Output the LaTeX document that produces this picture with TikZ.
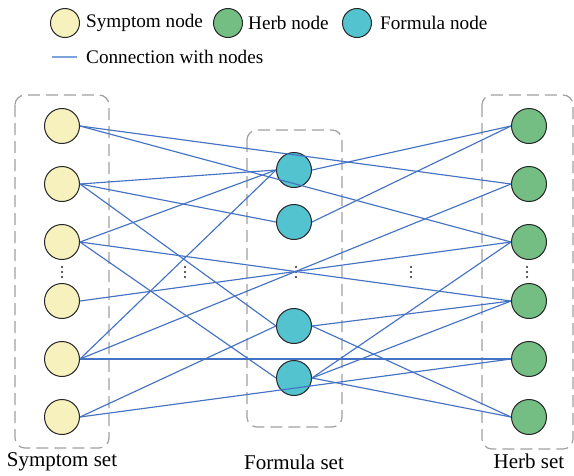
\documentclass[tikz,border=0pt]{standalone}
\usepackage{fontspec}
\setmainfont{Liberation Serif}
\newfontfamily\tnr{Liberation Serif}
\definecolor{symc}{HTML}{F7F1BE}
\definecolor{herbc}{HTML}{74BE84}
\definecolor{formc}{HTML}{52C3CF}
\definecolor{edgec}{HTML}{4472C4}
\definecolor{lgedgec}{HTML}{7EA2DA}
\definecolor{boxc}{HTML}{A0A0A0}
\begin{document}
\begin{tikzpicture}[x=1pt,y=-1pt,
  nd/.style={circle,draw=black!85,line width=1pt,minimum size=35pt,inner sep=0pt},
  sym/.style={nd,fill=symc},
  herb/.style={nd,fill=herbc},
  form/.style={nd,fill=formc},
  lg/.style={circle,draw=black!85,line width=1pt,minimum size=29pt,inner sep=0pt},
  edge/.style={draw=edgec,line width=1.15pt},
  setbox/.style={draw=boxc,line width=1.2pt,dash pattern=on 12pt off 6pt,rounded corners=10pt},
  lgtext/.style={anchor=west,inner sep=0pt,font=\tnr\fontsize{19.2}{23}\selectfont},
  settext/.style={inner sep=0pt,font=\tnr\fontsize{21}{25}\selectfont},
  vdot/.style={fill=black!85}
]
\useasboundingbox (0,0) rectangle (574,475);

% legend
\node[lg,fill=symc] (l1) at (65,23) {};
\node[lgtext] (t1) at (86,23) {Symptom node};
\node[lg,fill=herbc] (l2) at (228,23) {};
\node[lgtext] (t2) at (248,23) {Herb node};
\node[lg,fill=formc] (l3) at (357,23) {};
\node[lgtext] (t3) at (380,23) {Formula node};
\coordinate (la) at (52,57);
\coordinate (lb) at (77,57);
\draw[draw=lgedgec,line width=1.4pt] (la) -- (lb);
\node[lgtext] (t4) at (86,57) {Connection with nodes};

% set boxes
\draw[setbox] (15,95) rectangle (109,448);
\draw[setbox] (247,130) rectangle (342,427);
\draw[setbox] (482,95) rectangle (573,449);

% nodes
\node[sym] (S1) at (62,126) {};
\node[sym] (S2) at (62,184) {};
\node[sym] (S3) at (62,242) {};
\node[sym] (S4) at (62,301) {};
\node[sym] (S5) at (62,359) {};
\node[sym] (S6) at (62,417) {};
\node[form] (F1) at (294,170) {};
\node[form] (F2) at (294,222) {};
\node[form] (F3) at (294,326) {};
\node[form] (F4) at (294,378) {};
\node[herb] (H1) at (529,126) {};
\node[herb] (H2) at (529,184) {};
\node[herb] (H3) at (529,242) {};
\node[herb] (H4) at (529,301) {};
\node[herb] (H5) at (529,359) {};
\node[herb] (H6) at (529,417) {};

% vertical dots
\foreach \x in {62,185,296,411,527}{
  \foreach \y in {267,272,277}{
    \fill[vdot] (\x,\y) circle (1.1pt);
  }
}

% edges symptom -> formula / herb
\draw[edge] (S1.east) -- (H2.west);
\draw[edge] (S1.east) -- (H3.west);
\draw[edge] (S2.east) -- (F1.west);
\draw[edge] (S2.east) -- (F2.west);
\draw[edge] (S2.east) -- (F3.west);
\draw[edge] (S3.east) -- (F1.west);
\draw[edge] (S3.east) -- (H4.west);
\draw[edge] (S3.east) -- (F4.west);
\draw[edge] (S4.east) -- (H3.west);
\draw[edge] (S5.east) -- (F1.west);
\draw[edge] (S5.east) -- (H2.west);
\draw[edge] (S5.east) -- (H5.west);
\draw[edge] (S6.east) -- (F3.west);
\draw[edge] (S6.east) -- (H5.west);
% formula -> herb
\draw[edge] (F1.east) -- (H1.west);
\draw[edge] (F2.east) -- (H1.west);
\draw[edge] (F3.east) -- (H4.west);
\draw[edge] (F3.east) -- (H6.west);
\draw[edge] (F4.east) -- (H3.west);
\draw[edge] (F4.east) -- (H4.west);
\draw[edge] (F4.east) -- (H6.west);

% set labels
\node[settext] (ls) at (62,462) {Symptom set};
\node[settext] (lf) at (294,462) {Formula set};
\node[settext] (lh) at (529,461) {Herb set};
\end{tikzpicture}
\end{document}
